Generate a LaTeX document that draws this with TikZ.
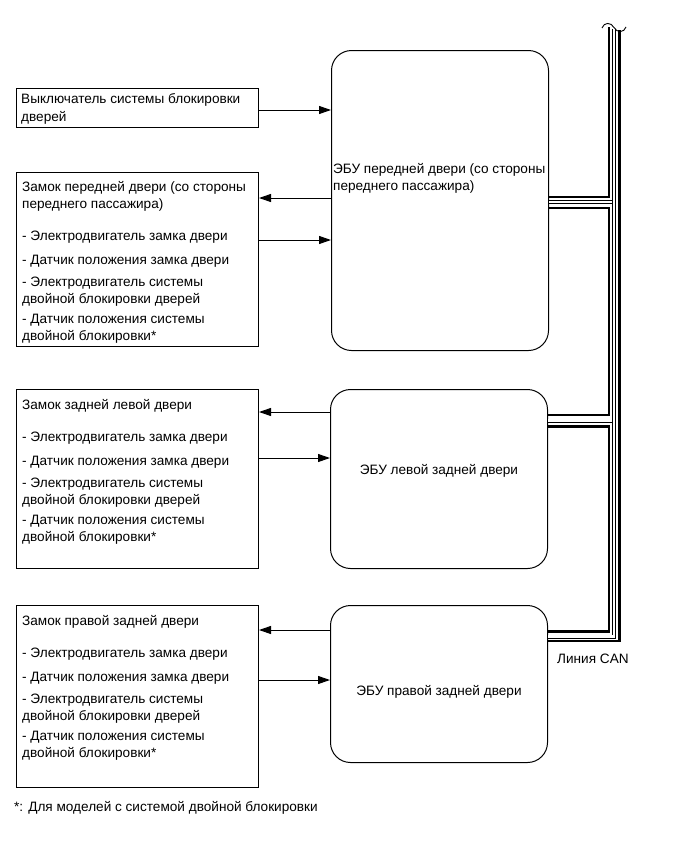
\documentclass[tikz,border=0pt]{standalone}
\usepackage{fontspec}
\setmainfont{Liberation Sans}
\usepackage{tikz}
\usetikzlibrary{calc,positioning,arrows.meta}

\begin{document}
\begin{tikzpicture}[x=1pt, y=-1pt,
  box/.style={draw, rectangle, line width=1pt, anchor=north west, inner sep=0pt, minimum width=242pt},
  ecu/.style={draw, rectangle, rounded corners=20pt, line width=1pt, anchor=north west, inner sep=0pt, minimum width=217pt},
  txt/.style={anchor=north west, align=left, inner sep=0pt, font=\fontsize{13.6}{17}\selectfont},
  sig/.style={line width=1pt, -{Triangle[length=12pt, width=8pt]}},
  canthick/.style={line width=2.8pt},
  canpair/.style={double, double distance=2.6pt, line width=0.7pt}]
  \useasboundingbox (0,0) rectangle (689,846);

  % door lock switch
  \node[box, minimum height=39pt] (switch) at (16,88) {};
  \node[txt] (switchtxt) at (21,93) {Выключатель системы блокировки\\[1pt]дверей};

  % front door (passenger side)
  \node[ecu, minimum height=300pt] (ecuF) at (331,50) {};
  \node[txt] (ecuFtxt) at (333,163) {ЭБУ передней двери (со стороны\\переднего пассажира)};
  \node[box, minimum height=174pt] (lockF) at (16,172) {};
  \node[txt] (lockFtxt) at (22,181) {Замок передней двери (со стороны\\переднего пассажира)\\[15pt]
    - Электродвигатель замка двери\\[7pt]
    - Датчик положения замка двери\\[5pt]
    - Электродвигатель системы\\двойной блокировки дверей\\[3pt]
    - Датчик положения системы\\двойной блокировки*};

  % rear left door
  \node[ecu, minimum height=179pt] (ecuL) at (330,389) {};
  \node[anchor=center, inner sep=0pt, font=\fontsize{13.6}{17}\selectfont] (ecuLtxt) at ([yshift=8pt]ecuL.center) {ЭБУ левой задней двери};
  \node[box, minimum height=179pt] (lockL) at (16,389) {};
  \node[txt] (lockLtxt) at (22,399) {Замок задней левой двери\\[15pt]
    - Электродвигатель замка двери\\[7pt]
    - Датчик положения замка двери\\[5pt]
    - Электродвигатель системы\\двойной блокировки дверей\\[3pt]
    - Датчик положения системы\\двойной блокировки*};

  % rear right door
  \node[ecu, minimum height=157pt] (ecuR) at (330,605) {};
  \node[anchor=center, inner sep=0pt, font=\fontsize{13.6}{17}\selectfont] (ecuRtxt) at ([yshift=-8pt]ecuR.center) {ЭБУ правой задней двери};
  \node[box, minimum height=182pt] (lockR) at (16,605) {};
  \node[txt] (lockRtxt) at (22,615) {Замок правой задней двери\\[15pt]
    - Электродвигатель замка двери\\[7pt]
    - Датчик положения замка двери\\[5pt]
    - Электродвигатель системы\\двойной блокировки дверей\\[3pt]
    - Датчик положения системы\\двойной блокировки*};

  % signals
  \draw[sig] (switch.east |- 0,110) -- (ecuF.west |- 0,110);
  \draw[sig] (ecuF.west |- 0,198) -- (lockF.east |- 0,198);
  \draw[sig] (lockF.east |- 0,240) -- (ecuF.west |- 0,240);
  \draw[sig] (ecuL.west |- 0,412) -- (lockL.east |- 0,412);
  \draw[sig] (lockL.east |- 0,458) -- (ecuL.west |- 0,458);
  \draw[sig] (ecuR.west |- 0,630) -- (lockR.east |- 0,630);
  \draw[sig] (lockR.east |- 0,680) -- (ecuR.west |- 0,680);

  % CAN line
  \coordinate (canA) at (609,27);
  \coordinate (canB) at (614,29);
  \coordinate (canC) at (619.5,30);
  \draw[canthick] (ecuF.east |- 0,197) -| (canA);
  \draw[canthick] (ecuF.east |- 0,208) -| (canA |- 0,415) -- (ecuL.east |- 0,415);
  \draw[canthick] (ecuL.east |- 0,426.5) -| (canA |- 0,631.5) -- (ecuR.east |- 0,631.5);
  \draw[canpair] (ecuF.east |- 0,202) -- (canB |- 0,202);
  \draw[canpair] (ecuL.east |- 0,420.5) -- (canB |- 0,420.5);
  \draw[canpair] (canB) -- (canB |- 0,636.5) -- (ecuR.east |- 0,636.5);
  \draw[canthick] (canC) -- (canC |- 0,641) -- (ecuR.east |- 0,641);
  \draw[line width=0.9pt] (602,28) .. controls (604,22) and (611,22) .. (614,27.5) .. controls (617,33) and (624,33) .. (626,27);
  \node[anchor=west, inner sep=0pt, font=\fontsize{13.6}{17}\selectfont] (canlbl) at (557,659) {Линия CAN};

  % footnote
  \node[anchor=west, inner sep=0pt, font=\fontsize{13.6}{17}\selectfont] (note) at (14,808) {*: Для моделей с системой двойной блокировки};
\end{tikzpicture}
\end{document}
